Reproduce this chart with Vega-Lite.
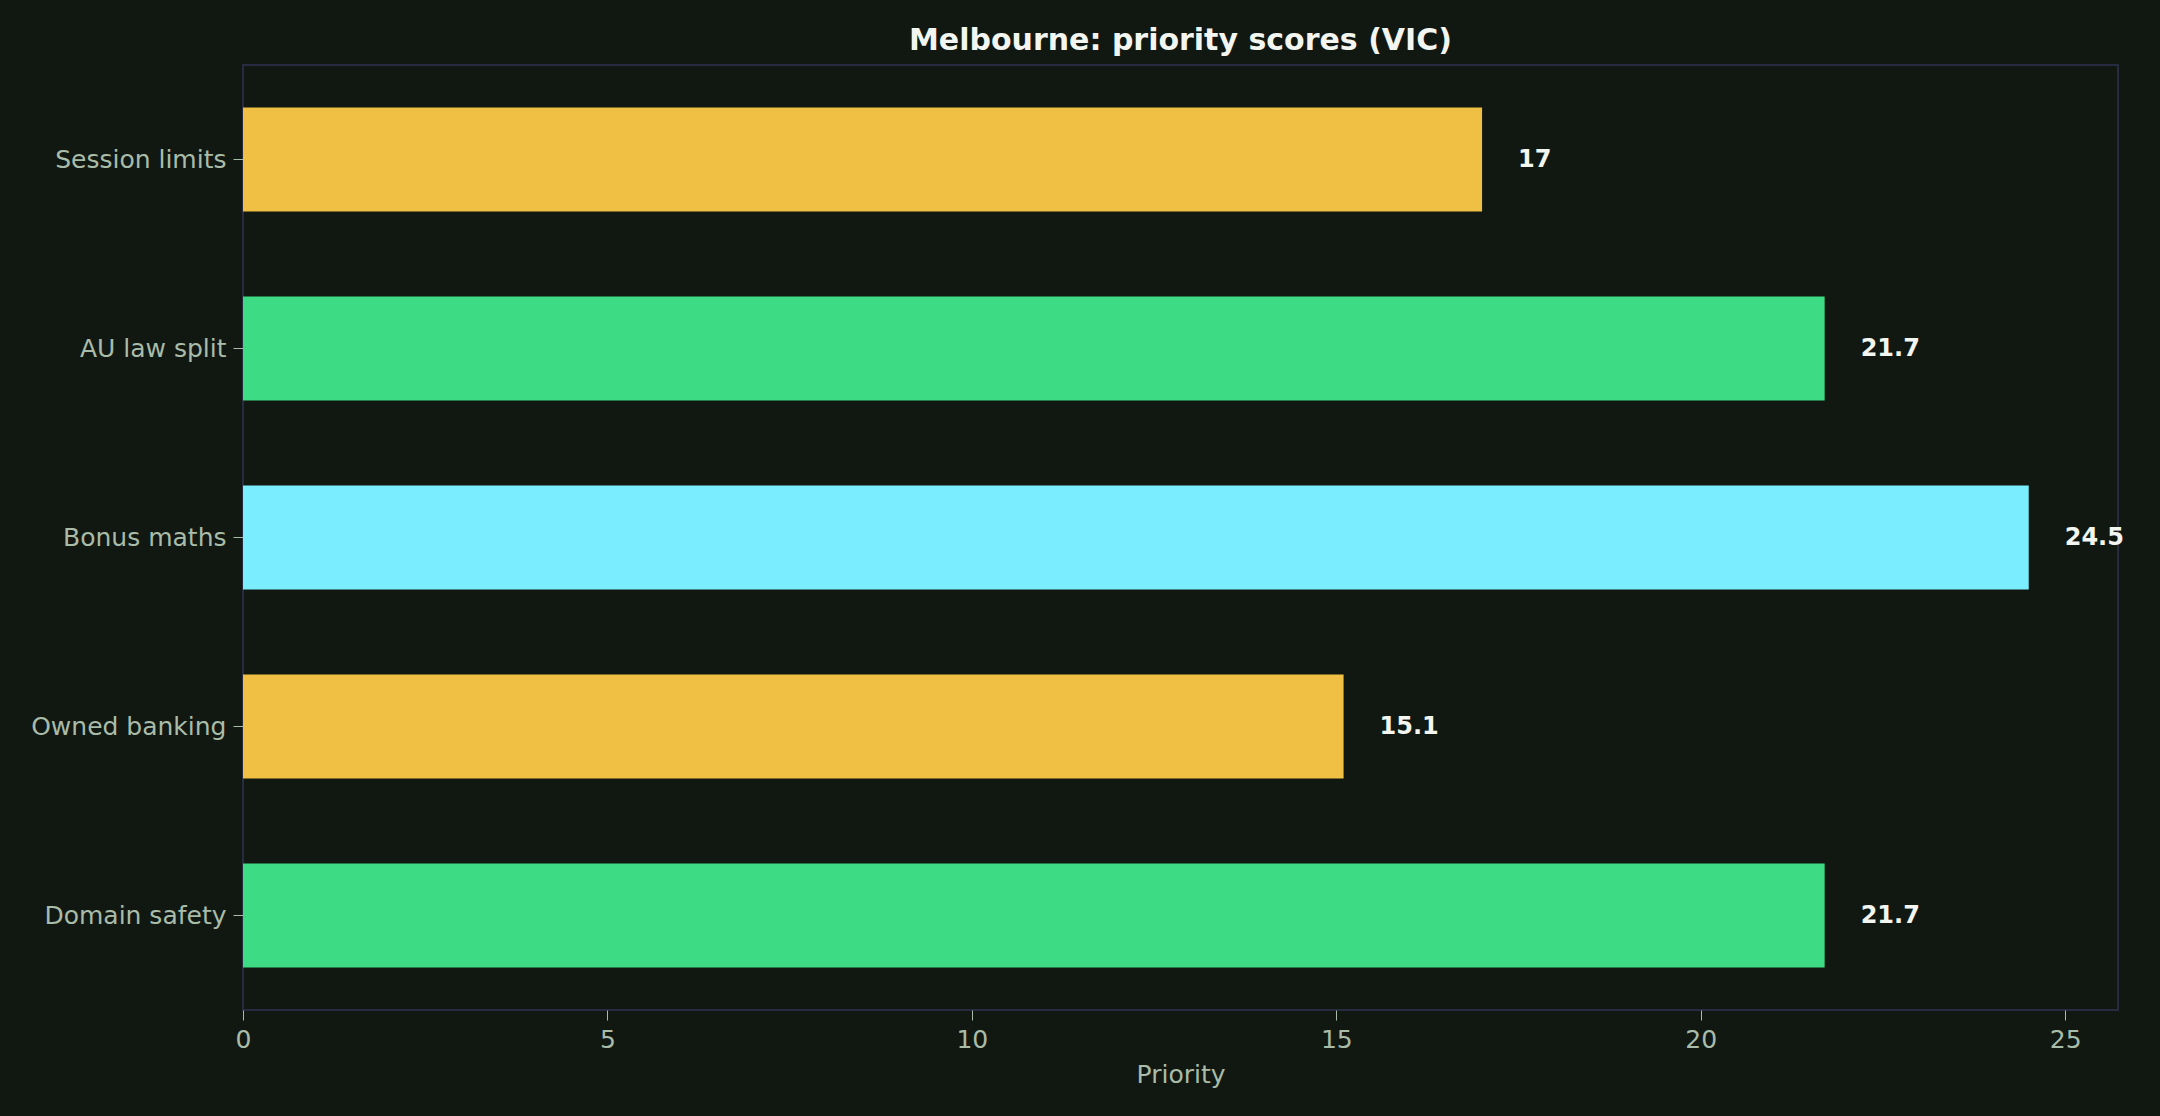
{
  "$schema": "https://vega.github.io/schema/vega-lite/v6.json",
  "background": "#111811",
  "autosize": "none",
  "padding": {"left": 243, "top": 65, "right": 42, "bottom": 106},
  "width": 1875,
  "height": 945,
  "title": {
    "text": "Melbourne: priority scores (VIC)",
    "anchor": "middle",
    "font": "DejaVu Sans",
    "fontSize": 30,
    "fontWeight": "bold",
    "color": "#f2f5f0",
    "offset": 9
  },
  "data": {
    "values": [
      {"item": "Session limits", "priority": 17},
      {"item": "AU law split", "priority": 21.7},
      {"item": "Bonus maths", "priority": 24.5},
      {"item": "Owned banking", "priority": 15.1},
      {"item": "Domain safety", "priority": 21.7}
    ]
  },
  "encoding": {
    "y": {
      "field": "item",
      "type": "nominal",
      "sort": null,
      "title": null,
      "scale": {"paddingInner": 0.45, "paddingOuter": 0.225}
    },
    "x": {
      "field": "priority",
      "type": "quantitative",
      "title": "Priority",
      "scale": {"domain": [0, 25.725], "nice": false},
      "axis": {"values": [0, 5, 10, 15, 20, 25], "format": "d", "labelFlush": false}
    }
  },
  "layer": [
    {
      "mark": {"type": "bar"},
      "encoding": {
        "color": {
          "field": "item",
          "type": "nominal",
          "legend": null,
          "scale": {
            "domain": ["Session limits", "AU law split", "Bonus maths", "Owned banking", "Domain safety"],
            "range": ["#efc043", "#3ddc84", "#7aeeff", "#efc043", "#3ddc84"]
          }
        }
      }
    },
    {
      "mark": {
        "type": "text",
        "align": "left",
        "baseline": "middle",
        "dx": 36,
        "font": "DejaVu Sans",
        "fontSize": 24,
        "fontWeight": "bold",
        "color": "#f2f5f0"
      },
      "encoding": {
        "text": {"field": "priority", "type": "quantitative"}
      }
    }
  ],
  "config": {
    "font": "DejaVu Sans",
    "view": {"stroke": "#262b3f", "strokeWidth": 2},
    "axis": {
      "grid": false,
      "domain": false,
      "labelFont": "DejaVu Sans",
      "labelFontSize": 25,
      "labelLimit": 500,
      "labelColor": "#a9bca9",
      "tickColor": "#a9bca9",
      "tickSize": 10,
      "labelPadding": 7,
      "titleFont": "DejaVu Sans",
      "titleFontSize": 25,
      "titleFontWeight": "normal",
      "titleColor": "#a9bca9",
      "titlePadding": 10
    }
  }
}
